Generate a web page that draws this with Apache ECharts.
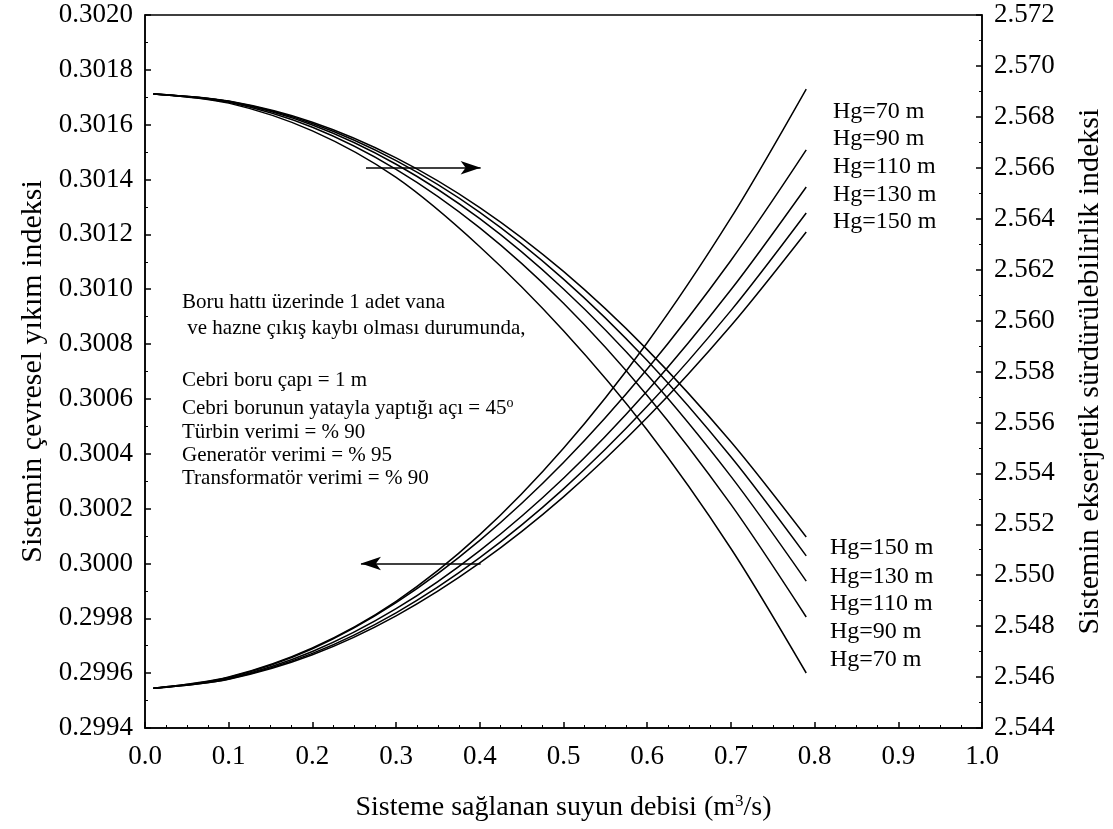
<!DOCTYPE html>
<html><head><meta charset="utf-8">
<script src="https://cdn.jsdelivr.net/npm/echarts@6/dist/echarts.min.js"></script>
<style>html,body{margin:0;padding:0;background:#fff}#c{width:1113px;height:829px}</style>
</head><body><div id="c"></div>
<script>
// ---- data ----
const flowRates = [0.01, 0.1, 0.2, 0.3, 0.4, 0.5, 0.6, 0.7, 0.79];
const hgLabels = ['Hg=70 m', 'Hg=90 m', 'Hg=110 m', 'Hg=130 m', 'Hg=150 m'];
// environmental destruction index (left axis)
const envHg70  = [0.299545, 0.299586, 0.299692, 0.299862, 0.300105, 0.300420, 0.300805, 0.301260, 0.301730];
const envHg90  = [0.299545, 0.299584, 0.299689, 0.299857, 0.300084, 0.300368, 0.300709, 0.301105, 0.301508];
const envHg110 = [0.299545, 0.299581, 0.299679, 0.299835, 0.300047, 0.300311, 0.300629, 0.300998, 0.301373];
const envHg130 = [0.299545, 0.299579, 0.299672, 0.299820, 0.300021, 0.300272, 0.300573, 0.300922, 0.301278];
const envHg150 = [0.299545, 0.299578, 0.299667, 0.299809, 0.300002, 0.300243, 0.300532, 0.300867, 0.301209];
// exergetic sustainability index (right axis)
const exHg70  = [2.5689, 2.56854, 2.56745, 2.56562, 2.56290, 2.55960, 2.55570, 2.55105, 2.54616];
const exHg90  = [2.5689, 2.56857, 2.56759, 2.56594, 2.56364, 2.56068, 2.55706, 2.55278, 2.54836];
const exHg110 = [2.5689, 2.56860, 2.56768, 2.56614, 2.56400, 2.56124, 2.55787, 2.55388, 2.54977];
const exHg130 = [2.5689, 2.56861, 2.56774, 2.56628, 2.56425, 2.56163, 2.55843, 2.55465, 2.55076];
const exHg150 = [2.5689, 2.56862, 2.56779, 2.56639, 2.56444, 2.56193, 2.55886, 2.55524, 2.55150];
// arrows [from, to] in data coords
const envArrow = [[0.401, 0.3000], [0.258, 0.3000]];
const exArrow  = [[0.264, 2.5660], [0.401, 2.5660]];
// annotation text
const noteLines = [
  'Boru hattı üzerinde 1 adet vana',
  ' ve hazne çıkış kaybı olması durumunda,',
  'Cebri boru çapı = 1 m',
  'Cebri borunun yatayla yaptığı açı = 45{sup|o}',
  'Türbin verimi = % 90',
  'Generatör verimi = % 95',
  'Transformatör verimi = % 90'
];

// ---- chart ----
const FONT = "'Liberation Serif', 'Times New Roman', serif";
const envSets = [envHg70, envHg90, envHg110, envHg130, envHg150];
const exSets = [exHg70, exHg90, exHg110, exHg130, exHg150];
const lineStyle = { color: '#000', width: 1.5 };
const series = [];
function arrowLine(arr) {
  return {
    silent: true, animation: false, symbol: ['none', 'none'], label: { show: false },
    lineStyle: { color: '#000', width: 1.5, type: 'solid' }, emphasis: { disabled: true },
    data: [[{ coord: arr[0] }, { coord: arr[1], symbol: 'arrow', symbolSize: [10, 20] }]]
  };
}
envSets.forEach((arr, k) => {
  const s = {
    type: 'line', name: 'env ' + hgLabels[k], yAxisIndex: 0, smooth: 0.3,
    showSymbol: false, symbol: 'none', lineStyle, silent: true,
    data: flowRates.map((x, i) => [x, arr[i]])
  };
  if (k === 0) s.markLine = arrowLine(envArrow);
  series.push(s);
});
exSets.forEach((arr, k) => {
  const s = {
    type: 'line', name: 'ex ' + hgLabels[k], yAxisIndex: 1, smooth: 0.3,
    showSymbol: false, symbol: 'none', lineStyle, silent: true,
    data: flowRates.map((x, i) => [x, arr[i]])
  };
  if (k === 0) s.markLine = arrowLine(exArrow);
  series.push(s);
});

const noteY = [302, 328, 380, 408, 432, 455, 478];
const graphics = noteLines.map((t, i) => ({
  type: 'text', x: 182, y: noteY[i], silent: true,
  style: { text: t, fontFamily: FONT, fontSize: 21, fill: '#000', verticalAlign: 'middle',
    rich: { sup: { fontSize: 14, fontFamily: FONT, verticalAlign: 'top', lineHeight: 24 } } }
}));
const topY = [112, 139, 167, 195, 222];
const botY = [660, 632, 604, 577, 548];
hgLabels.forEach((t, i) => {
  graphics.push({ type: 'text', x: 833, y: topY[i], silent: true,
    style: { text: t, fontFamily: FONT, fontSize: 24, fill: '#000', verticalAlign: 'middle' } });
  graphics.push({ type: 'text', x: 830, y: botY[i], silent: true,
    style: { text: t, fontFamily: FONT, fontSize: 24, fill: '#000', verticalAlign: 'middle' } });
});

const axisCommon = {
  axisLine: { show: true, lineStyle: { color: '#000', width: 1.5 } },
  axisTick: { show: true, inside: true, length: 6, lineStyle: { color: '#000', width: 1.5 } },
  splitLine: { show: false },
  axisLabel: { color: '#000', fontFamily: FONT, fontSize: 27 },
  nameTextStyle: { color: '#000', fontFamily: FONT, fontSize: 30 }
};

const option = {
  animation: false,
  backgroundColor: '#fff',
  grid: { left: 145, right: 130, top: 15, bottom: 101, show: true, borderColor: '#000', borderWidth: 1.5, backgroundColor: 'transparent' },
  xAxis: Object.assign({}, axisCommon, {
    type: 'value', min: 0, max: 1, interval: 0.1,
    minorTick: { show: true, splitNumber: 4, length: 3, lineStyle: { color: '#000', width: 1 } },
    axisLabel: Object.assign({}, axisCommon.axisLabel, { margin: 15, formatter: v => v.toFixed(1) }),
    name: 'Sisteme sağlanan suyun debisi (m{sup|3}/s)', nameLocation: 'middle', nameGap: 65,
    nameTextStyle: Object.assign({}, axisCommon.nameTextStyle, { fontSize: 28,
      rich: { sup: { fontSize: 17, fontFamily: FONT, color: '#000', verticalAlign: 'top', lineHeight: 30 } } })
  }),
  yAxis: [
    Object.assign({}, axisCommon, {
      type: 'value', position: 'left', min: 0.2994, max: 0.3020, interval: 0.0002,
      minorTick: { show: true, splitNumber: 2, length: 3, lineStyle: { color: '#000', width: 1 } },
      axisLabel: Object.assign({}, axisCommon.axisLabel, { margin: 12, formatter: v => v.toFixed(4) }),
      name: 'Sistemin çevresel yıkım indeksi', nameLocation: 'middle', nameGap: 97, nameRotate: 90
    }),
    Object.assign({}, axisCommon, {
      type: 'value', position: 'right', min: 2.544, max: 2.572, interval: 0.002,
      minorTick: { show: true, splitNumber: 2, length: 3, lineStyle: { color: '#000', width: 1 } },
      axisLabel: Object.assign({}, axisCommon.axisLabel, { margin: 12, formatter: v => v.toFixed(3) }),
      name: 'Sistemin ekserjetik sürdürülebilirlik indeksi', nameLocation: 'middle', nameGap: 93, nameRotate: 90
    })
  ],
  series,
  graphic: graphics
};
const chart = echarts.init(document.getElementById('c'), null, { renderer: 'canvas' });
chart.setOption(option);
</script></body></html>
